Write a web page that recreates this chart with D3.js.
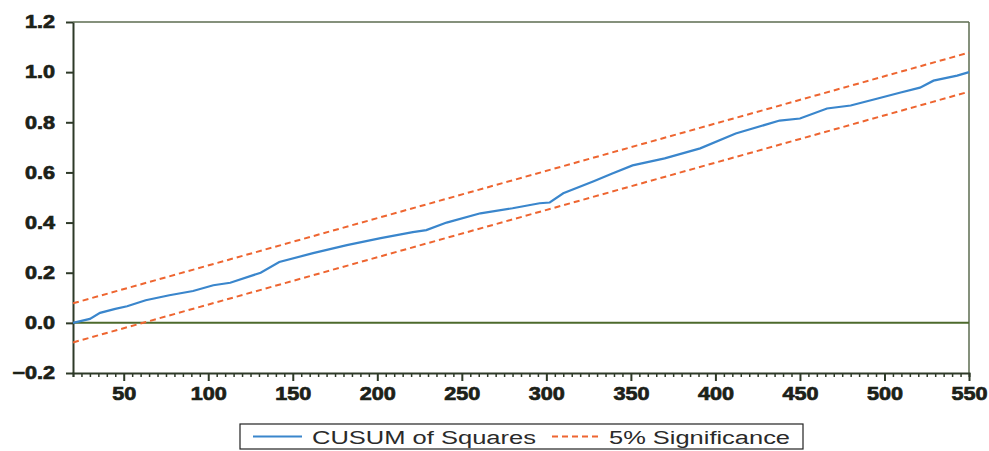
<!DOCTYPE html>
<html>
<head>
<meta charset="utf-8">
<script src="https://cdn.jsdelivr.net/npm/d3@7"></script>
<style>
body { margin: 0; background: #fff; }
text { font-family: "Liberation Sans", Arial, sans-serif; }
</style>
</head>
<body>
<script>
// CUSUM of squares
var obs    = [20, 30, 36, 45, 52, 63, 77, 91, 103, 113, 131, 142, 162, 182, 202, 221, 229, 241, 261, 280, 296, 302, 310, 328, 339, 351, 370, 391, 412, 438, 450, 466, 480, 496, 509, 521, 529, 543, 550];
var cusumSq = [0.0, 0.016, 0.04, 0.056, 0.066, 0.09, 0.11, 0.127, 0.15, 0.16, 0.2, 0.243, 0.278, 0.31, 0.338, 0.362, 0.37, 0.40, 0.437, 0.457, 0.477, 0.48, 0.517, 0.565, 0.596, 0.628, 0.656, 0.696, 0.755, 0.807, 0.815, 0.855, 0.867, 0.895, 0.918, 0.938, 0.966, 0.986, 1.0];

// 5% significance bands (straight lines, end points)
var bandObs   = [20, 550];
var bandUpper = [0.078, 1.078];
var bandLower = [-0.078, 0.922];

var yTicks = [-0.2, 0.0, 0.2, 0.4, 0.6, 0.8, 1.0, 1.2];
var xTicks = [50, 100, 150, 200, 250, 300, 350, 400, 450, 500, 550];
var legendLabels = ["CUSUM of Squares", "5% Significance"];

var W = 989, H = 451;
var margin = {top: 22, right: 20, bottom: 78, left: 73};
var width = W - margin.left - margin.right;
var height = H - margin.top - margin.bottom;

var xScale = d3.scaleLinear().domain([20, 550]).range([0, width]);
var yScale = d3.scaleLinear().domain([-0.2, 1.2]).range([height, 0]);

var svg = d3.select("body").append("svg")
    .attr("width", W)
    .attr("height", H);
var g = svg.append("g")
    .attr("transform", "translate(" + margin.left + "," + margin.top + ")");

var axisColor = "#2e3a28";
var frameColor = "#5c6c50";
var labelColor = "#1c2118";

// frame top and right
g.append("line").attr("x1", 0).attr("x2", width).attr("y1", 0).attr("y2", 0)
    .attr("stroke", frameColor).attr("stroke-width", 1.5);
g.append("line").attr("x1", width).attr("x2", width).attr("y1", 0).attr("y2", height)
    .attr("stroke", frameColor).attr("stroke-width", 1.5);

// zero line
g.append("line")
    .attr("x1", 0).attr("x2", width)
    .attr("y1", yScale(0)).attr("y2", yScale(0))
    .attr("stroke", "#4d6a2c").attr("stroke-width", 2);

// heavy, slightly stretched tick labels like the original
function heavy(sel) {
    sel.attr("fill", labelColor)
        .attr("stroke", labelColor)
        .attr("stroke-width", 0.7)
        .style("font-size", "18px")
        .style("font-weight", "bold");
}

// y axis
var yAxis = g.append("g")
    .call(d3.axisLeft(yScale).tickValues(yTicks).tickFormat(d3.format(".1f")).tickSize(7).tickSizeOuter(0));
yAxis.select(".domain").attr("stroke", axisColor).attr("stroke-width", 2);
yAxis.selectAll(".tick line").attr("stroke", axisColor).attr("stroke-width", 2);
yAxis.selectAll(".tick text")
    .attr("x", -15)
    .attr("transform", "scale(1.2,1)")
    .call(heavy);

// x axis, minor ticks every 5
var minor = d3.range(20, 551, 5).filter(function(d) { return d % 50 !== 0; });
var xMinor = g.append("g")
    .attr("transform", "translate(0," + height + ")")
    .call(d3.axisBottom(xScale).tickValues(minor).tickSize(4).tickFormat(""));
xMinor.select(".domain").attr("stroke", axisColor).attr("stroke-width", 2);
xMinor.selectAll(".tick line").attr("stroke", axisColor).attr("stroke-width", 1.5);

var xAxis = g.append("g")
    .attr("transform", "translate(0," + height + ")")
    .call(d3.axisBottom(xScale).tickValues(xTicks).tickSize(8).tickSizeOuter(0));
xAxis.select(".domain").remove();
xAxis.selectAll(".tick line").attr("stroke", axisColor).attr("stroke-width", 2);
xAxis.selectAll(".tick text")
    .attr("y", 14)
    .attr("transform", "scale(1.2,1)")
    .call(heavy);

// lines
var cusumData = obs.map(function(t, i) { return {x: t, y: cusumSq[i]}; });
var upperData = bandObs.map(function(t, i) { return {x: t, y: bandUpper[i]}; });
var lowerData = bandObs.map(function(t, i) { return {x: t, y: bandLower[i]}; });

var line = d3.line()
    .x(function(d) { return xScale(d.x); })
    .y(function(d) { return yScale(d.y); })
    .curve(d3.curveLinear);

var blue = "#3a86cc";
var orange = "#ee6530";

[upperData, lowerData].forEach(function(d) {
    g.append("path")
        .datum(d)
        .attr("fill", "none")
        .attr("stroke", orange)
        .attr("stroke-width", 2)
        .attr("stroke-dasharray", "6,4")
        .attr("d", line);
});

g.append("path")
    .datum(cusumData)
    .attr("fill", "none")
    .attr("stroke", blue)
    .attr("stroke-width", 2.2)
    .attr("d", line);

// legend
var lg = svg.append("g").attr("transform", "translate(240,424)");
lg.append("rect")
    .attr("width", 563).attr("height", 25)
    .attr("fill", "#fff").attr("stroke", "#222").attr("stroke-width", 1.2);
lg.append("line").attr("x1", 13).attr("x2", 62).attr("y1", 12.5).attr("y2", 12.5)
    .attr("stroke", blue).attr("stroke-width", 2);
lg.append("text").attr("x", 72).attr("y", 20)
    .attr("textLength", 224).attr("lengthAdjust", "spacingAndGlyphs")
    .style("font-size", "18px").attr("fill", "#2a2a2a")
    .text(legendLabels[0]);
lg.append("line").attr("x1", 312).attr("x2", 362).attr("y1", 12.5).attr("y2", 12.5)
    .attr("stroke", orange).attr("stroke-width", 2).attr("stroke-dasharray", "6,4");
lg.append("text").attr("x", 369).attr("y", 20)
    .attr("textLength", 181).attr("lengthAdjust", "spacingAndGlyphs")
    .style("font-size", "18px").attr("fill", "#2a2a2a")
    .text(legendLabels[1]);
</script>
</body>
</html>
